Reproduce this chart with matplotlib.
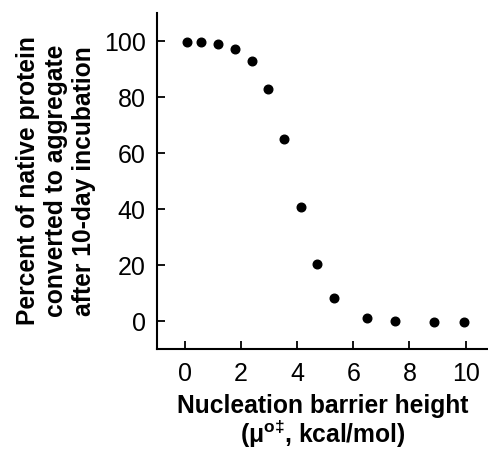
import matplotlib
matplotlib.use("Agg")
import matplotlib.pyplot as plt

plt.rcParams['font.family'] = ['Liberation Sans', 'DejaVu Sans']
plt.rcParams['mathtext.fontset'] = 'custom'
plt.rcParams['mathtext.rm'] = 'Liberation Sans:bold'
plt.rcParams['mathtext.bf'] = 'Liberation Sans:bold'
plt.rcParams['mathtext.it'] = 'Liberation Sans:bold'

barrier = [0.07, 0.58, 1.17, 1.79, 2.38, 2.95, 3.54, 4.15, 4.72, 5.3, 6.5, 7.5, 8.86, 9.96]
percent = [99.6, 99.6, 98.8, 97.2, 92.9, 82.7, 64.9, 40.7, 20.2, 8.4, 1.0, 0.1, -0.2, -0.2]
xticks = [0, 2, 4, 6, 8, 10]
yticks = [0, 20, 40, 60, 80, 100]

fig = plt.figure(figsize=(4.89, 4.5), dpi=100)
ax = fig.add_axes([0.321, 0.2244, 0.677, 0.7466])
ax.plot(barrier, percent, 'o', color='black', markersize=6.2)
ax.set_xlim(-1.0, 10.8)
ax.set_ylim(-10, 110)
ax.set_xticks(xticks)
ax.set_yticks(yticks)
for s in ['top', 'right']:
    ax.spines[s].set_visible(False)
for s in ['left', 'bottom']:
    ax.spines[s].set_linewidth(1.5)
ax.tick_params(direction='in', length=6, width=1.3, labelsize=18, colors='black')
ax.tick_params(axis='x', pad=9)
ax.tick_params(axis='y', pad=8)
ax.set_xlabel('Nucleation barrier height\n(μ$^{o\u2021}$, kcal/mol)', fontsize=17.7,
              fontweight='bold', linespacing=1.0, labelpad=6)
ax.set_ylabel('Percent of native protein\nconverted to aggregate\nafter 10-day incubation',
              fontsize=17.7, fontweight='bold', linespacing=1.2, labelpad=6)
fig.savefig('out.png', dpi=100)
